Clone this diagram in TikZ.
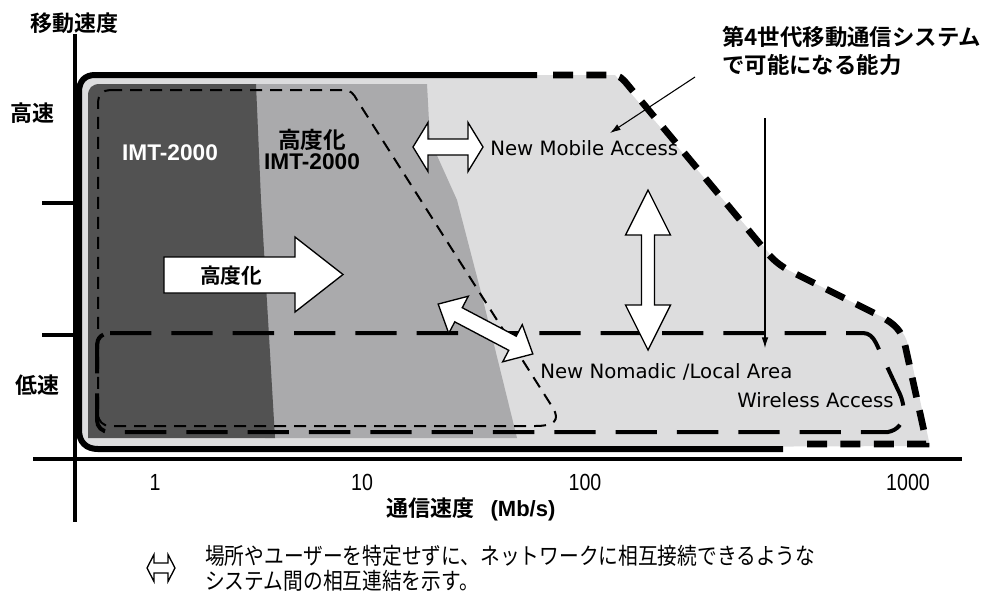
\documentclass[tikz,border=0pt]{standalone}
\usepackage{fontspec}
\setmainfont{Liberation Sans}
\newfontfamily\narrowsans{Liberation Sans}[FakeStretch=0.84]
\newfontfamily\jp{Noto Sans CJK JP}[BoldFont={* Bold}]
\newfontfamily\jpnarrow{Noto Sans CJK JP}[FakeStretch=0.86]
\newfontfamily\dv{DejaVu Sans}
\usetikzlibrary{arrows.meta}
\definecolor{lightreg}{RGB}{221,221,222}
\definecolor{midreg}{RGB}{170,170,172}
\definecolor{darkreg}{RGB}{82,82,82}
\newcommand\dblarr[7]{%
  \begin{scope}[shift={(#1,#2)},rotate=#3]
    \draw[blockarrow] (-#4,0) -- ({-#4+#5},#6) -- ({-#4+#5},#7) -- ({#4-#5},#7) -- ({#4-#5},#6) -- (#4,0)
      -- ({#4-#5},-#6) -- ({#4-#5},-#7) -- ({-#4+#5},-#7) -- ({-#4+#5},-#6) -- cycle;
  \end{scope}}
\begin{document}
\begin{tikzpicture}[x=0.75pt,y=-0.75pt,
  jplabel/.style={font=\jp\bfseries\fontsize{16.5}{21}\selectfont, inner sep=0pt},
  ticklabel/.style={font=\narrowsans\fontsize{17.5}{20}\selectfont, inner sep=0pt},
  dvlabel/.style={font=\dv\fontsize{14.8}{18}\selectfont, inner sep=0pt},
  blockarrow/.style={draw=black, fill=white, line width=1pt, line join=miter},
  outersolid/.style={line width=4.5pt},
  outerdash/.style={line width=5pt, dash pattern=on 15pt off 10pt},
  nomdash/.style={line width=3pt, dash pattern=on 31pt off 15pt},
  thindash/.style={line width=1.5pt, dash pattern=on 9pt off 6pt},
  axisline/.style={line width=2.4pt},
  thinarrow/.style={line width=0.8pt, -{Latex[length=8pt,width=5pt]}}
]
\useasboundingbox (0,0) rectangle (989,601);

% shaded regions
\fill[lightreg] (80,90) .. controls (80,80) and (85,75) .. (95,75) -- (615,75) -- (765,248)
  .. controls (775,262) and (780,266) .. (792,272) -- (880,316)
  .. controls (897,324) and (905,332) .. (908,345) -- (930,446) -- (95,449)
  .. controls (86,449) and (80,443) .. (80,432) -- cycle;
\fill[midreg] (250,84) -- (427,84) -- (430,140) -- (457,200) -- (483,300) -- (517,438) -- (265,438) -- cycle;
\fill[darkreg] (88,96) .. controls (88,88) and (92,84) .. (100,84) -- (256,84) -- (261,200) -- (275,438) -- (88,438) -- cycle;

% enhanced IMT-2000 boundary
\draw[thindash] (110,90) -- (345,90) .. controls (350,90) and (354,94) .. (357,100) -- (553,408)
  .. controls (560,420) and (555,426) .. (535,426) -- (110,426)
  .. controls (103,426) and (98,421) .. (98,414) -- (98,102)
  .. controls (98,95) and (103,90) .. (110,90);

% nomadic / local area boundary
\draw[nomdash] (110,333) -- (863,333) .. controls (869,333) and (873,337) .. (876,343) -- (898,390)
  .. controls (906,405) and (908,428) .. (888,432) -- (110,432)
  .. controls (102,432) and (97,427) .. (97,420) -- (97,345)
  .. controls (97,338) and (102,333) .. (110,333);

% outer boundary (4G)
\draw[outersolid] (537,75) -- (95,75) .. controls (85,75) and (79,81) .. (79,92) -- (79,430)
  .. controls (79,442) and (86,449) .. (98,449) -- (783,449);
\draw[outerdash] (553,75) -- (612,75) .. controls (619,75) and (622,78) .. (627,84) -- (765,250)
  .. controls (772,259) and (779,265) .. (790,271) -- (880,316)
  .. controls (895,324) and (902,331) .. (905,345) -- (926,440) -- (926,444) -- (795,444);

% axes
\draw[axisline] (75,34) -- (75,522);
\draw[line width=3pt] (33,459) -- (962,459);
\draw[axisline] (42,203) -- (75,203);
\draw[axisline] (42,335) -- (75,335);

% block arrows
\draw[blockarrow] (164,257) -- (295,257) -- (295,237) -- (343,274.5) -- (295,312) -- (295,293) -- (164,293) -- cycle;
\dblarr{448}{147}{0}{35}{15}{24.5}{8}
\dblarr{648}{270}{90}{80}{45}{22.5}{6.5}
\dblarr{485.5}{329}{-27.8}{53.5}{23}{21}{8}
\dblarr{161}{568}{0}{14}{7}{13.5}{5}

% labels
\node[jplabel] (ylab) at (75,23) {移動速度};
\node[jplabel] (hi) at (32,113) {高速};
\node[jplabel] (lo) at (38,385) {低速};
\node[ticklabel] (t1) at (155,482) {1};
\node[ticklabel] (t10) at (362,482) {10};
\node[ticklabel] (t100) at (585,482) {100};
\node[ticklabel] (t1000) at (908,482) {1000};
\node[inner sep=0pt] (xlab) at (471,509) {{\jp\bfseries\fontsize{16.5}{18}\selectfont 通信速度}\hspace{12pt}{\bfseries\fontsize{16.5}{18}\selectfont (Mb/s)}};
\node[jplabel, font=\jp\bfseries\fontsize{16.8}{21}\selectfont, align=left, anchor=north west] (g4) at (722,26) {第4世代移動通信システム\\で可能になる能力};
\node[inner sep=0pt, text=white, font=\bfseries\fontsize{17}{20}\selectfont] (imt) at (170,153) {IMT-2000};
\node[jplabel, font=\jp\bfseries\fontsize{17}{20}\selectfont] (adv1) at (312,140) {高度化};
\node[inner sep=0pt, font=\bfseries\fontsize{17}{20}\selectfont] (adv2) at (312,162) {IMT-2000};
\node[jplabel, font=\jp\bfseries\fontsize{15.5}{18}\selectfont] (advarr) at (231,276) {高度化};
\node[dvlabel, anchor=west] (nma) at (490,148) {New Mobile Access};
\node[dvlabel, anchor=west] (nna) at (540,372) {New Nomadic /Local Area};
\node[dvlabel, anchor=west] (wa) at (737,400) {Wireless Access};
\node[anchor=west, align=left, inner sep=0pt, font=\jpnarrow\fontsize{17.2}{18.75}\selectfont] (legend) at (205,568) {場所やユーザーを特定せずに、ネットワークに相互接続できるような\\システム間の相互連結を示す。};

% pointer arrows
\coordinate (p1s) at (695,77);
\coordinate (p1e) at (610,133);
\coordinate (p2s) at (765,118);
\coordinate (p2e) at (765,348);
\draw[thinarrow] (p1s) -- (p1e);
\draw[thinarrow] (p2s) -- (p2e);
\end{tikzpicture}
\end{document}
